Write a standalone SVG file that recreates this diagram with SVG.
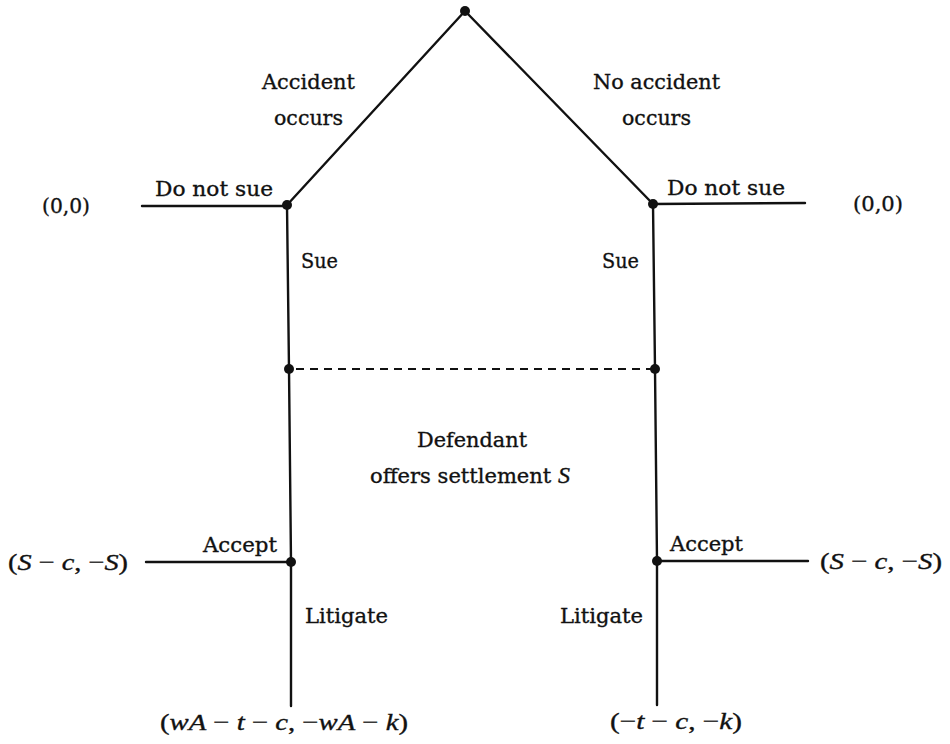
<svg xmlns="http://www.w3.org/2000/svg" width="950" height="744" viewBox="0 0 950 744">
<style>
.edge{stroke:#111;stroke-width:2.4;fill:none;stroke-linecap:round}
.dash{stroke:#111;stroke-width:2;fill:none;stroke-dasharray:8 6}
.dot{fill:#111}
.lbl{font-family:"DejaVu Serif","Liberation Serif",serif;font-size:21px;fill:#111;stroke:#111;stroke-width:0.35}
.m{font-family:"Liberation Serif","DejaVu Serif",serif;font-size:24px;fill:#111;stroke:#111;stroke-width:0.35}
.i{font-style:italic}
</style>
<rect width="950" height="744" fill="#fff"/>
<g id="connectors">
<line class="edge" x1="465" y1="11" x2="287" y2="205"/>
<line class="edge" x1="465" y1="11" x2="653" y2="204"/>
<line class="edge" x1="142" y1="206" x2="287" y2="206"/>
<line class="edge" x1="653" y1="204" x2="805" y2="203"/>
<polyline class="edge" points="287,205 289,369 291,562 291,706"/>
<polyline class="edge" points="653,204 655,369 657,561 657,705"/>
<line class="dash" x1="296" y1="369" x2="652" y2="369"/>
<line class="edge" x1="146" y1="562" x2="291" y2="562"/>
<line class="edge" x1="657" y1="561" x2="808" y2="561"/>
</g>
<g id="root"><circle class="dot" cx="465" cy="11" r="5"/></g>
<g id="accident">
<circle class="dot" cx="287" cy="205" r="5"/>
<text class="lbl" x="262" y="89" textLength="93" lengthAdjust="spacingAndGlyphs">Accident</text>
<text class="lbl" x="274" y="125" textLength="69" lengthAdjust="spacingAndGlyphs">occurs</text>
<text class="lbl" x="155" y="196" textLength="118" lengthAdjust="spacingAndGlyphs">Do not sue</text>
<text class="lbl" x="301" y="268" textLength="37" lengthAdjust="spacingAndGlyphs">Sue</text>
</g>
<g id="no-accident">
<circle class="dot" cx="653" cy="204" r="5"/>
<text class="lbl" x="593" y="89" textLength="127" lengthAdjust="spacingAndGlyphs">No accident</text>
<text class="lbl" x="622" y="125" textLength="69" lengthAdjust="spacingAndGlyphs">occurs</text>
<text class="lbl" x="667" y="195" textLength="118" lengthAdjust="spacingAndGlyphs">Do not sue</text>
<text class="lbl" x="602" y="268" textLength="37" lengthAdjust="spacingAndGlyphs">Sue</text>
</g>
<g id="payoff-left-nosue"><text class="lbl" x="42" y="213" textLength="48" lengthAdjust="spacingAndGlyphs">(0,0)</text></g>
<g id="payoff-right-nosue"><text class="lbl" x="853" y="211" textLength="50" lengthAdjust="spacingAndGlyphs">(0,0)</text></g>
<g id="offer-left"><circle class="dot" cx="289" cy="369" r="5"/></g>
<g id="offer-right"><circle class="dot" cx="655" cy="369" r="5"/></g>
<g id="defendant">
<text class="lbl" x="417" y="447" textLength="110" lengthAdjust="spacingAndGlyphs">Defendant</text>
<text class="lbl" x="370" y="483" textLength="200" lengthAdjust="spacingAndGlyphs">offers settlement <tspan class="i" font-family="Liberation Serif, serif" font-size="24">S</tspan></text>
</g>
<g id="plaintiff-left">
<circle class="dot" cx="291" cy="562" r="5"/>
<text class="lbl" x="203" y="552" textLength="74" lengthAdjust="spacingAndGlyphs">Accept</text>
<text class="lbl" x="305" y="623" textLength="83" lengthAdjust="spacingAndGlyphs">Litigate</text>
</g>
<g id="plaintiff-right">
<circle class="dot" cx="657" cy="561" r="5"/>
<text class="lbl" x="670" y="551" textLength="73" lengthAdjust="spacingAndGlyphs">Accept</text>
<text class="lbl" x="560" y="623" textLength="83" lengthAdjust="spacingAndGlyphs">Litigate</text>
</g>
<g id="payoff-left-accept"><text class="m" x="8" y="570" textLength="120" lengthAdjust="spacingAndGlyphs">(<tspan class="i">S</tspan> − <tspan class="i">c</tspan>, −<tspan class="i">S</tspan>)</text></g>
<g id="payoff-right-accept"><text class="m" x="820" y="569" textLength="122" lengthAdjust="spacingAndGlyphs">(<tspan class="i">S</tspan> − <tspan class="i">c</tspan>, −<tspan class="i">S</tspan>)</text></g>
<g id="payoff-left-litigate"><text class="m" x="160" y="730" textLength="248" lengthAdjust="spacingAndGlyphs">(<tspan class="i">wA</tspan> − <tspan class="i">t</tspan> − <tspan class="i">c</tspan>, −<tspan class="i">wA</tspan> − <tspan class="i">k</tspan>)</text></g>
<g id="payoff-right-litigate"><text class="m" x="610" y="729" textLength="132" lengthAdjust="spacingAndGlyphs">(−<tspan class="i">t</tspan> − <tspan class="i">c</tspan>, −<tspan class="i">k</tspan>)</text></g>
</svg>
